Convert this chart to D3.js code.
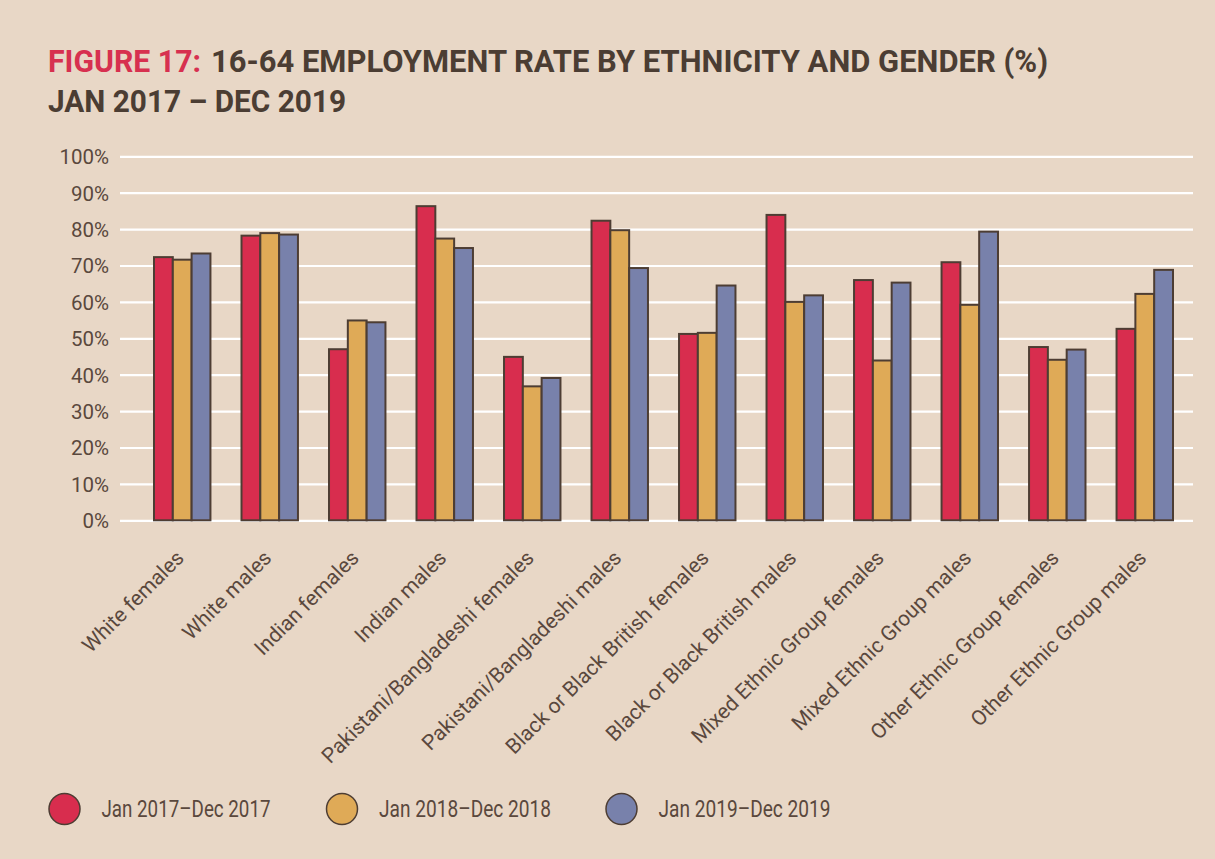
<!DOCTYPE html>
<html>
<head>
<meta charset="utf-8">
<script src="https://cdn.jsdelivr.net/npm/d3@7/dist/d3.min.js"></script>
<style>
  html, body { margin: 0; padding: 0; background: #e8d7c6; }
  svg { display: block; }
</style>
</head>
<body>
<svg id="chart" width="1215" height="859"></svg>
<script>
// Employment rate (16-64) by ethnicity and gender, three survey years
const categories = [
  "White females", "White males", "Indian females", "Indian males",
  "Pakistani/Bangladeshi females", "Pakistani/Bangladeshi males",
  "Black or Black British females", "Black or Black British males",
  "Mixed Ethnic Group females", "Mixed Ethnic Group males",
  "Other Ethnic Group females", "Other Ethnic Group males"
];
const seriesNames = ["Jan 2017\u2013Dec 2017", "Jan 2018\u2013Dec 2018", "Jan 2019\u2013Dec 2019"];
const values2017 = [72.3, 78.2, 47.0, 86.3, 44.9, 82.3, 51.2, 83.9, 66.0, 70.9, 47.6, 52.6];
const values2018 = [71.6, 78.9, 54.9, 77.4, 36.8, 79.7, 51.5, 60.0, 43.9, 59.2, 44.1, 62.2];
const values2019 = [73.3, 78.5, 54.4, 74.8, 39.1, 69.3, 64.5, 61.8, 65.3, 79.3, 46.9, 68.8];
const yTicks = [0, 10, 20, 30, 40, 50, 60, 70, 80, 90, 100];
const seriesColors = ["#d82d4e", "#dfaa57", "#7881ab"];

const series = [values2017, values2018, values2019];

const svg = d3.select("#chart");
const ink = "#5a483d";
const outline = "#4d3d33";
const font = "Roboto, 'Open Sans', sans-serif";

// Title
const title = svg.append("g").attr("font-family", font).attr("font-weight", 700);
title.append("text").attr("x", 48).attr("y", 72).attr("font-size", 31)
  .attr("fill", "#d7304f").attr("textLength", 153).attr("lengthAdjust", "spacingAndGlyphs")
  .text("FIGURE 17:");
title.append("text").attr("x", 211).attr("y", 72).attr("font-size", 31)
  .attr("fill", "#4b3d33").attr("textLength", 837).attr("lengthAdjust", "spacingAndGlyphs")
  .text("16-64 EMPLOYMENT RATE BY ETHNICITY AND GENDER (%)");
title.append("text").attr("x", 48).attr("y", 112).attr("font-size", 31)
  .attr("fill", "#4b3d33").attr("textLength", 298).attr("lengthAdjust", "spacingAndGlyphs")
  .text("JAN 2017 \u2013 DEC 2019");

// Scales
const plotLeft = 120, plotRight = 1193;
const y = d3.scaleLinear().domain([0, 100]).range([520.3, 156.3]);
const x = d3.scaleBand().domain(categories).range([154, 1173]).paddingInner(0.355).paddingOuter(0);
const xs = d3.scaleBand().domain(d3.range(series.length)).range([0, x.bandwidth()]);

// Gridlines and y labels
const yAxis = svg.append("g")
  .attr("transform", `translate(${plotLeft},0)`)
  .call(d3.axisLeft(y).tickValues(yTicks).tickFormat(d => d + "%")
    .tickSizeInner(-(plotRight - plotLeft)).tickSizeOuter(0).tickPadding(11));
yAxis.select(".domain").remove();
yAxis.selectAll(".tick line").attr("stroke", "#ffffff").attr("stroke-width", 2.2);
yAxis.selectAll(".tick text").attr("font-family", font).attr("font-size", 20.5)
  .attr("fill", ink).attr("dy", "0.36em");

// Bars
const groups = svg.append("g").selectAll("g")
  .data(categories).join("g")
  .attr("transform", d => `translate(${x(d)},0)`);
groups.selectAll("rect")
  .data((d, i) => series.map((s, k) => ({ k, v: s[i] })))
  .join("rect")
  .attr("x", d => xs(d.k))
  .attr("width", xs.bandwidth())
  .attr("y", d => y(d.v))
  .attr("height", d => y(0) - y(d.v))
  .attr("fill", d => seriesColors[d.k])
  .attr("stroke", outline)
  .attr("stroke-width", 2);

// Category labels
const xAxis = svg.append("g")
  .attr("transform", `translate(0,${y(0)})`)
  .call(d3.axisBottom(x).tickSize(0).tickPadding(0));
xAxis.select(".domain").remove();
xAxis.selectAll(".tick text")
  .attr("font-family", font).attr("font-size", 21).attr("fill", ink)
  .attr("text-anchor", "end")
  .attr("x", 0).attr("y", 0).attr("dy", 0)
  .attr("transform", "translate(3,39) rotate(-45)");

// Legend
const legendX = [64.5, 342, 621.5];
const legendW = [169, 172, 172];
const legend = svg.append("g").selectAll("g")
  .data(seriesNames).join("g")
  .attr("transform", (d, i) => `translate(${legendX[i]},809)`);
legend.append("circle").attr("r", 15.5)
  .attr("fill", (d, i) => seriesColors[i])
  .attr("stroke", outline).attr("stroke-width", 1.5);
legend.append("text").attr("x", 37).attr("y", 8)
  .attr("font-family", font).attr("font-size", 23).attr("fill", ink)
  .attr("textLength", (d, i) => legendW[i]).attr("lengthAdjust", "spacingAndGlyphs")
  .text(d => d);
</script>
</body>
</html>
